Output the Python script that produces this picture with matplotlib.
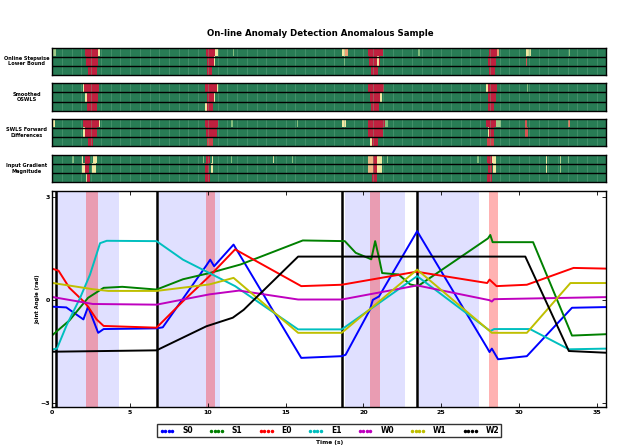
import numpy as np
import matplotlib
matplotlib.use('Agg')
import matplotlib.pyplot as plt
from matplotlib.colors import LinearSegmentedColormap
from matplotlib.lines import Line2D

t_end = 35.6

# joint angle traces, key points (time s, angle rad)
s0_t = [0.05, 0.9, 2.0, 2.3, 2.95, 3.3, 6.7, 7.1, 9.9, 10.15, 10.4, 11.65, 16.0, 18.6, 18.85, 20.4, 20.6, 21.0, 23.45, 27.95, 28.1, 28.25, 28.65, 30.5, 33.4, 35.6]
s0_v = [-0.2, -0.22, -0.57, -0.2, -0.96, -0.85, -0.83, -0.8, 1.0, 1.17, 0.98, 1.61, -1.69, -1.64, -1.6, -0.3, 0.0, 0.1, 2.0, -1.4, -1.52, -1.42, -1.73, -1.64, -0.23, -0.21]

s1_t = [0.05, 1.1, 2.3, 3.3, 4.5, 6.7, 8.4, 10.1, 12.1, 16.1, 18.8, 19.5, 20.3, 20.5, 20.75, 21.0, 21.2, 22.25, 23.0, 23.5, 28.0, 28.15, 28.3, 30.9, 33.4, 35.6]
s1_v = [-1.01, -0.6, 0.06, 0.35, 0.38, 0.3, 0.6, 0.78, 1.03, 1.73, 1.71, 1.37, 1.22, 1.18, 1.71, 1.22, 0.78, 0.74, 0.45, 0.4, 1.79, 1.89, 1.68, 1.68, -1.04, -1.0]

e0_t = [0.05, 0.4, 1.1, 2.0, 2.3, 2.85, 3.3, 6.7, 8.4, 10.1, 11.75, 16.0, 18.6, 20.5, 22.9, 23.4, 27.95, 28.1, 28.55, 30.5, 33.5, 35.6]
e0_v = [0.9, 0.85, 0.35, -0.04, -0.2, -0.57, -0.76, -0.81, -0.04, 0.69, 1.47, 0.4, 0.44, 0.59, 0.78, 0.82, 0.49, 0.59, 0.4, 0.44, 0.93, 0.91]

e1_t = [0.05, 0.3, 0.93, 1.78, 2.42, 3.07, 3.5, 6.7, 8.4, 10.1, 11.75, 15.8, 18.6, 23.45, 28.15, 28.4, 30.7, 33.2, 35.6]
e1_v = [-1.44, -1.42, -0.73, 0.05, 0.73, 1.65, 1.72, 1.71, 1.17, 0.78, 0.4, -0.86, -0.86, 0.69, -0.91, -0.85, -0.85, -1.44, -1.42]

w0_t = [0.05, 2.6, 6.7, 10.1, 12.0, 15.8, 18.6, 23.45, 28.1, 28.25, 28.4, 35.6]
w0_v = [0.08, -0.12, -0.14, 0.16, 0.27, 0.01, 0.01, 0.42, -0.01, -0.05, 0.02, 0.08]

w1_t = [0.05, 2.6, 3.6, 6.7, 10.1, 11.65, 15.8, 18.6, 23.45, 28.25, 30.5, 33.3, 35.6]
w1_v = [0.49, 0.31, 0.26, 0.26, 0.45, 0.64, -0.96, -0.96, 0.88, -0.96, -0.96, 0.49, 0.49]

w2_t = [0.05, 6.7, 9.9, 11.6, 12.3, 15.8, 30.4, 33.2, 35.6]
w2_v = [-1.51, -1.47, -0.77, -0.52, -0.29, 1.26, 1.26, -1.49, -1.54]

labels = ['S0', 'S1', 'E0', 'E1', 'W0', 'W1', 'W2']
colors = ['b', 'g', 'r', 'c', 'm', 'y', 'k']

# segment boundaries, test windows and injected anomalies
boundaries = [0.27, 6.72, 18.65, 23.43]
windows = [(0.32, 4.29), (6.88, 10.79), (18.82, 22.68), (23.6, 27.4)]
anomalies = [(2.15, 2.92), (9.86, 10.46), (20.43, 21.07), (28.04, 28.64)]

# detector outputs: per row (start, end, score)
heat_oslb = [
    [(0.05, 0.25, 0.35), (2.1, 2.95, 1), (2.95, 3.05, 0.5), (9.88, 10.46, 1), (10.46, 10.65, 0.5), (11.6, 11.72, 0.3),
     (18.65, 18.8, 0.5), (18.8, 19.0, 0.65), (20.32, 21.3, 1), (23.5, 23.65, 0.3), (28.08, 28.62, 1), (28.62, 28.74, 0.65),
     (30.46, 30.6, 0.5), (30.6, 30.8, 0.45), (33.2, 33.3, 0.3)],
    [(2.15, 2.96, 1), (9.93, 10.4, 1), (10.4, 10.5, 0.5), (18.75, 18.82, 0.3), (20.4, 20.9, 1), (20.9, 21.0, 0.5),
     (21.0, 21.1, 1), (28.0, 28.5, 1), (30.45, 30.52, 0.85)],
    [(2.32, 2.85, 1), (9.93, 10.25, 1), (20.49, 20.92, 1), (28.08, 28.46, 1)],
]
heat_smooth = [
    [(1.99, 2.08, 0.5), (2.08, 3.03, 1), (9.82, 10.57, 1), (10.57, 10.68, 0.5), (20.32, 21.35, 1), (27.88, 28.0, 0.5),
     (28.0, 28.62, 1), (30.5, 30.6, 0.3)],
    [(2.1, 2.21, 0.5), (2.21, 2.96, 1), (9.93, 10.4, 1), (10.4, 10.5, 0.5), (20.43, 21.1, 1), (21.1, 21.2, 0.5), (28.0, 28.5, 1)],
    [(2.25, 2.92, 1), (9.82, 9.93, 0.5), (9.93, 10.31, 1), (20.49, 21.03, 1), (28.0, 28.4, 1)],
]
heat_swls = [
    [(0.02, 0.17, 0.5), (1.99, 3.0, 1), (3.0, 3.08, 0.5), (9.86, 10.68, 1), (11.5, 11.6, 0.3), (15.75, 15.82, 0.3),
     (18.65, 18.87, 0.5), (20.32, 21.4, 1), (21.4, 21.55, 0.3), (27.9, 28.5, 1), (28.5, 28.85, 0.35), (30.4, 30.5, 0.85),
     (33.15, 33.3, 0.75)],
    [(1.99, 2.1, 0.5), (2.1, 2.92, 1), (9.88, 10.57, 1), (20.32, 21.29, 1), (28.0, 28.1, 0.5), (28.1, 28.4, 1),
     (30.4, 30.55, 0.85)],
    [(2.32, 2.64, 1), (9.93, 10.36, 0.9), (20.45, 20.55, 0.5), (20.55, 20.92, 1), (27.95, 28.4, 0.9)],
]
heat_grad = [
    [(1.3, 1.4, 0.3), (1.89, 2.0, 0.5), (2.1, 2.42, 1), (2.64, 2.85, 0.5), (9.68, 9.75, 0.3), (9.88, 10.14, 1),
     (10.25, 10.36, 0.5), (11.5, 11.58, 0.3), (14.18, 14.25, 0.45), (15.4, 15.46, 0.3), (20.32, 20.6, 0.6),
     (20.6, 20.85, 1), (20.85, 21.18, 0.5), (21.5, 21.55, 0.3), (27.29, 27.46, 0.3), (27.93, 28.3, 1), (28.3, 28.53, 0.5),
     (31.72, 31.8, 0.5), (32.62, 32.7, 0.4), (33.15, 33.22, 0.3)],
    [(1.93, 2.1, 0.5), (2.1, 2.38, 1), (2.6, 2.8, 0.5), (9.82, 10.1, 1), (10.2, 10.36, 0.5), (20.32, 20.6, 0.6),
     (20.6, 20.85, 1), (20.85, 21.18, 0.5), (28.0, 28.3, 1), (28.34, 28.5, 0.5), (31.72, 31.8, 0.5), (32.66, 32.74, 0.35)],
    [(2.2, 2.28, 0.45), (2.28, 2.42, 1), (9.82, 10.14, 1), (20.53, 20.85, 1), (27.93, 28.25, 1)],
]
heat_names = ['Online Stepwise\nLower Bound', 'Smoothed\nOSWLS', 'SWLS Forward\nDifferences', 'Input Gradient\nMagnitude']

cmap = LinearSegmentedColormap.from_list('det', [(0.0, '#287c55'), (0.3, '#86c07e'), (0.5, '#f3eaa4'),
                                                  (0.7, '#ec8a68'), (1.0, '#c0213f')])

fig = plt.figure(figsize=(6.4, 4.47), dpi=100)
fig.text(0.5, 0.924, 'On-line Anomaly Detection Anomalous Sample', ha='center', va='center',
         fontsize=6.2, fontweight='bold')

left, width = 0.0817, 0.8655
heat_bottoms = [0.8322, 0.7523, 0.6727, 0.5922]
dt = 0.02
t_grid = np.arange(0, t_end, dt)
for heat, name, bot in zip([heat_oslb, heat_smooth, heat_swls, heat_grad], heat_names, heat_bottoms):
    hax = fig.add_axes([left, bot, width, 0.0615])
    grid = np.zeros((3, len(t_grid)))
    for r, row in enumerate(heat):
        for a, b, lev in row:
            m = (t_grid >= a) & (t_grid < b)
            grid[r, m] = np.maximum(grid[r, m], lev)
    hax.imshow(grid, aspect='auto', cmap=cmap, vmin=0, vmax=1, interpolation='nearest',
               extent=(0, t_end, 3, 0))
    # faint cell borders seen in the original
    hax.vlines(np.arange(0.625, t_end, 0.625), 0, 3, color='#6fb08b', lw=0.6, alpha=0.45)
    hax.hlines([1, 2], 0, t_end, color='k', lw=1)
    hax.set_xlim(0, t_end)
    hax.set_ylim(3, 0)
    hax.set_xticks([])
    hax.set_yticks([])
    for sp in hax.spines.values():
        sp.set_linewidth(1.0)
    hax.text(-0.046, 0.5, name, transform=hax.transAxes, ha='center', va='center',
             fontsize=3.6, fontweight='bold', linespacing=1.1)

ax = fig.add_axes([left, 0.0895, width, 0.4832])
for a, b in windows:
    ax.axvspan(a, b, color='b', alpha=0.12, lw=0)
for a, b in anomalies:
    ax.axvspan(a, b, color='r', alpha=0.3, lw=0)
for x in boundaries:
    ax.axvline(x, color='k', lw=1.8)

data = [(s0_t, s0_v), (s1_t, s1_v), (e0_t, e0_v), (e1_t, e1_v), (w0_t, w0_v), (w1_t, w1_v), (w2_t, w2_v)]
for (t, v), c, lab in zip(data, colors, labels):
    ax.plot(t, v, color=c, lw=1.4, label=lab)

ax.set_xlim(0, t_end)
ax.set_ylim(-3.12, 3.17)
ax.set_xticks([0, 5, 10, 15, 20, 25, 30, 35])
ax.set_yticks([-3, 0, 3])
ax.tick_params(direction='in', top=True, right=True, length=3, width=0.6, labelsize=4.5, pad=2)
for lab in ax.get_xticklabels() + ax.get_yticklabels():
    lab.set_fontweight('bold')
for sp in ax.spines.values():
    sp.set_linewidth(1.0)
ax.set_ylabel('Joint Angle (rad)', fontsize=3.8, fontweight='bold')
ax.yaxis.set_label_coords(-0.022, 0.5)
ax.set_xlabel('Time (s)', fontsize=4.2, fontweight='bold')
ax.xaxis.set_label_coords(0.5, -0.152)

handles = [Line2D([], [], color=c, ls='none', marker='o', ms=1.5) for c in colors]
leg = ax.legend(handles, labels, loc='upper center', bbox_to_anchor=(0.5, -0.063), ncol=7, numpoints=4,
                fontsize=5.5, frameon=True, fancybox=False, edgecolor='k', handlelength=2.0,
                handletextpad=1.0, columnspacing=2.1, borderpad=0.25)
leg.get_frame().set_linewidth(1.0)
for txt in leg.get_texts():
    txt.set_fontweight('bold')

fig.savefig('out.png', dpi=100)
